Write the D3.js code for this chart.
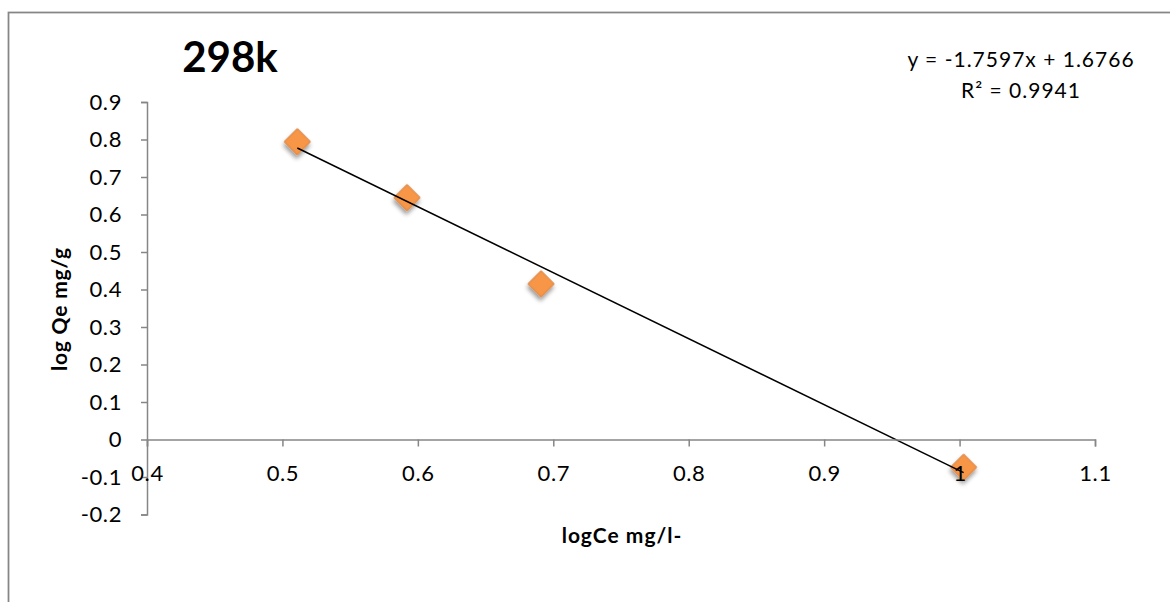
<!DOCTYPE html>
<html>
<head>
<meta charset="utf-8">
<script src="https://cdn.jsdelivr.net/npm/d3@7"></script>
<style>
  html, body { margin: 0; padding: 0; background: #fff; }
  svg { display: block; }
  text { font-family: Lato, "Open Sans", sans-serif; fill: #000; }
</style>
</head>
<body>
<svg id="chart" width="1170" height="602"></svg>
<script>
// Freundlich isotherm at 298 K: log Qe against log Ce
const logCe = [0.511, 0.592, 0.691, 1.003];
const logQe = [0.794, 0.645, 0.415, -0.074];

// Linear fit reported with the series
const fitSlope = -1.7597;
const fitIntercept = 1.6766;
const fitR2 = 0.9941;

const xTicks = [0.4, 0.5, 0.6, 0.7, 0.8, 0.9, 1.0, 1.1];
const xTickLabels = ["0.4", "0.5", "0.6", "0.7", "0.8", "0.9", "1", "1.1"];
const yTicks = [-0.2, -0.1, 0, 0.1, 0.2, 0.3, 0.4, 0.5, 0.6, 0.7, 0.8, 0.9];
const yTickLabels = ["-0.2", "-0.1", "0", "0.1", "0.2", "0.3", "0.4", "0.5", "0.6", "0.7", "0.8", "0.9"];

const svg = d3.select("#chart");
const axisGray = "#868686";

// Outer chart frame
svg.append("rect")
  .attr("x", 8.5).attr("y", 12.5)
  .attr("width", 1200).attr("height", 700)
  .attr("fill", "none").attr("stroke", axisGray).attr("stroke-width", 1.75);

const x = d3.scaleLinear().domain([0.4, 1.1]).range([147, 1095]);
const y = d3.scaleLinear().domain([-0.2, 0.9]).range([514.5, 102]);

// Drop shadow for markers
const defs = svg.append("defs");
const f = defs.append("filter").attr("id", "shadow")
  .attr("x", "-50%").attr("y", "-50%").attr("width", "200%").attr("height", "200%");
f.append("feDropShadow")
  .attr("dx", 2).attr("dy", 3).attr("stdDeviation", 2)
  .attr("flood-color", "#000").attr("flood-opacity", 0.4);

const tickFont = sel => sel
  .style("font-size", "22px")
  .style("letter-spacing", "0.6px")
  .attr("fill", "#000");

// Y axis (vertical line at x = 0.4)
const yAxis = d3.axisLeft(y)
  .tickValues(yTicks)
  .tickFormat((d, i) => yTickLabels[i])
  .tickSize(6)
  .tickPadding(19);
const gy = svg.append("g")
  .attr("transform", `translate(${x(0.4)},0)`)
  .call(yAxis);
gy.select(".domain").attr("stroke", axisGray).attr("stroke-width", 1.5);
gy.selectAll(".tick line").attr("stroke", axisGray).attr("stroke-width", 1.5);
gy.selectAll(".tick text").call(tickFont);

// X axis crossing at y = 0
const xAxis = d3.axisBottom(x)
  .tickValues(xTicks)
  .tickFormat((d, i) => xTickLabels[i])
  .tickSize(7)
  .tickPadding(19);
const gx = svg.append("g")
  .attr("transform", `translate(0,${y(0)})`)
  .call(xAxis);
gx.select(".domain").attr("stroke", axisGray).attr("stroke-width", 1.5);
gx.selectAll(".tick line").attr("stroke", axisGray).attr("stroke-width", 1.5);
gx.selectAll(".tick text").call(tickFont);

// Data markers: orange diamonds
const pts = logCe.map((v, i) => ({ x: v, y: logQe[i] }));
const diamond = d3.symbol().type(d3.symbolSquare).size(340);
svg.append("g").selectAll("path")
  .data(pts)
  .join("path")
  .attr("d", diamond)
  .attr("transform", d => `translate(${x(d.x)},${y(d.y)}) rotate(45)`)
  .attr("fill", "#F79646")
  .attr("stroke", "#D98545")
  .attr("stroke-width", 1)
  .attr("filter", "url(#shadow)");

// Trend line over the range of the data
const xMin = d3.min(logCe), xMax = d3.max(logCe);
const fitLine = d3.line().x(d => x(d)).y(d => y(fitSlope * d + fitIntercept));
svg.append("path")
  .datum([xMin, xMax])
  .attr("d", fitLine)
  .attr("fill", "none")
  .attr("stroke", "#000")
  .attr("stroke-width", 1.5);

// Bring tick labels above the markers
gx.raise();
gx.select(".domain").lower();

// Title
svg.append("text")
  .attr("x", 230).attr("y", 72)
  .attr("text-anchor", "middle")
  .style("font-size", "42px").style("font-weight", "bold")
  .text("298k");

// Axis titles
svg.append("text")
  .attr("x", 622).attr("y", 543)
  .attr("text-anchor", "middle")
  .style("font-size", "21px").style("font-weight", "bold")
  .style("letter-spacing", "1px")
  .text("logCe mg/l-");

svg.append("text")
  .attr("transform", "translate(67,309) rotate(-90)")
  .attr("text-anchor", "middle")
  .style("font-size", "21px").style("font-weight", "bold")
  .style("letter-spacing", "0.8px")
  .text("log Qe mg/g");

// Fit equation and R²
const sign = fitIntercept >= 0 ? "+" : "-";
svg.append("text")
  .attr("x", 1021).attr("y", 67)
  .attr("text-anchor", "middle")
  .style("font-size", "21px")
  .style("letter-spacing", "1px")
  .text(`y = ${fitSlope}x ${sign} ${Math.abs(fitIntercept)}`);
svg.append("text")
  .attr("x", 1021).attr("y", 98)
  .attr("text-anchor", "middle")
  .style("font-size", "21px")
  .style("letter-spacing", "1px")
  .text(`R² = ${fitR2}`);
</script>
</body>
</html>
